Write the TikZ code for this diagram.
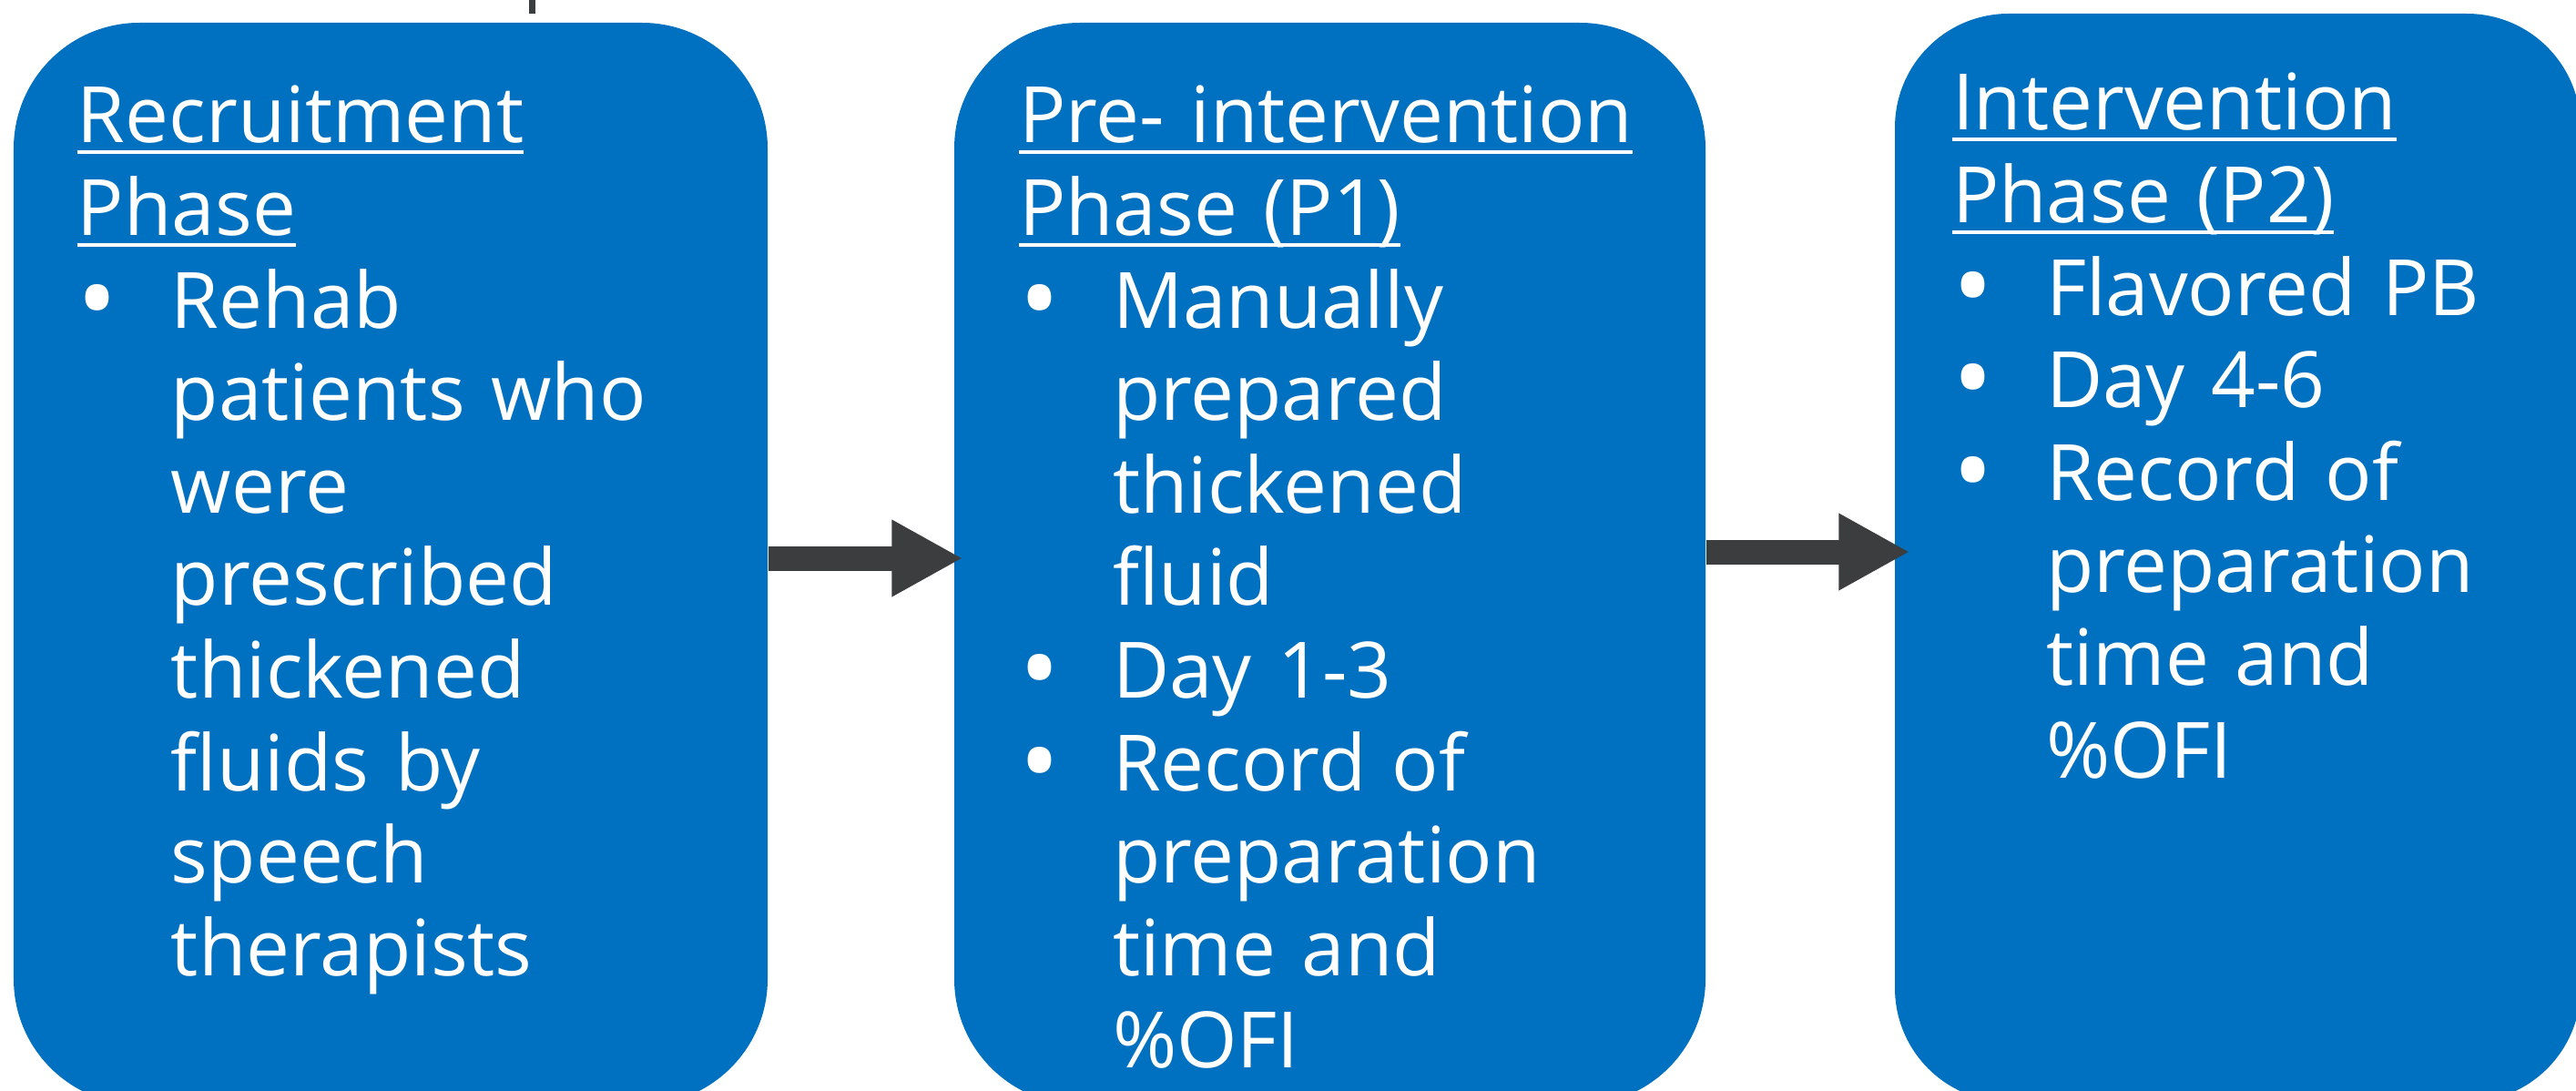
\documentclass[tikz,border=0pt]{standalone}
\usepackage{fontspec}
\setmainfont{Open Sans}
\usepackage{tikz}
\usetikzlibrary{arrows.meta}
\definecolor{boxblue}{HTML}{0070C0}
\definecolor{arrowgray}{HTML}{3C3D3F}
\newcommand{\ulhead}[1]{\setbox0\hbox{#1}\rlap{\rule[-0.12cm]{\wd0}{0.04cm}}\box0}
\newcommand{\bitem}[1]{\par\hangindent=1.03cm\hangafter=1\noindent
	\makebox[1.03cm][l]{\raisebox{-0.1cm}{\fontsize{34}{0}\selectfont•}}#1\par}

\begin{document}
\begin{tikzpicture}[
	phasebox/.style={fill=boxblue, rounded corners=#1, inner sep=0pt},
	phasetext/.style={anchor=north west, inner sep=0pt, text=white, text width=7.3cm, align=left,
		font={\fontsize{24.3}{28.9}\selectfont\parskip=0pt}},
	flowarrow/.style={draw=arrowgray, line width=0.27cm, -{Triangle[length=0.78cm, width=0.79cm]}}
]
	\useasboundingbox (0,0) rectangle (28.29,11.97);
	\clip (0,0) rectangle (28.29,11.97);
	% phase boxes
	\node[phasebox=1.38cm, minimum width=8.28cm, minimum height=11.88cm] (recruit) at (4.29,5.78) {};
	\node[phasebox=1.38cm, minimum width=8.25cm, minimum height=11.88cm] (preint) at (14.605,5.78) {};
	\node[phasebox=1.25cm, minimum width=7.53cm, minimum height=11.95cm] (interv) at (24.575,5.845) {};
	% cut line at the top
	\coordinate (cut top) at (5.84,11.97);
	\coordinate (cut end) at (5.84,11.82);
	\draw[arrowgray, line width=0.07cm] (cut top) -- (cut end);
	% arrows
	\draw[flowarrow] ([yshift=0.06cm]recruit.east) -- ([xshift=0.1cm,yshift=0.06cm]preint.west);
	\draw[flowarrow] ([yshift=0.13cm]preint.east) -- ([xshift=0.17cm,yshift=0.065cm]interv.west);
	% texts
	\node[phasetext] (recruit text) at ([xshift=0.70cm,yshift=-0.52cm]recruit.north west)
		{\noindent\rule{0pt}{0.8cm}\ulhead{Recruitment}\newline
		\ulhead{Phase}
		\bitem{Rehab\newline patients who\newline were\newline prescribed\newline thickened\newline fluids by\newline speech\newline therapists}};
	\node[phasetext] (preint text) at ([xshift=0.71cm,yshift=-0.52cm]preint.north west)
		{\noindent\rule{0pt}{0.8cm}\ulhead{Pre- intervention}\newline
		\ulhead{Phase (P1)}
		\bitem{Manually\newline prepared\newline thickened\newline fluid}
		\bitem{Day 1-3}
		\bitem{Record of\newline preparation\newline time and\newline \%OFI}};
	\node[phasetext] (interv text) at ([xshift=0.63cm,yshift=-0.48cm]interv.north west)
		{\noindent\rule{0pt}{0.8cm}\ulhead{Intervention}\newline
		\ulhead{Phase (P2)}
		\bitem{Flavored PB}
		\bitem{Day 4-6}
		\bitem{Record of\newline preparation\newline time and\newline \%OFI}};
\end{tikzpicture}
\end{document}
